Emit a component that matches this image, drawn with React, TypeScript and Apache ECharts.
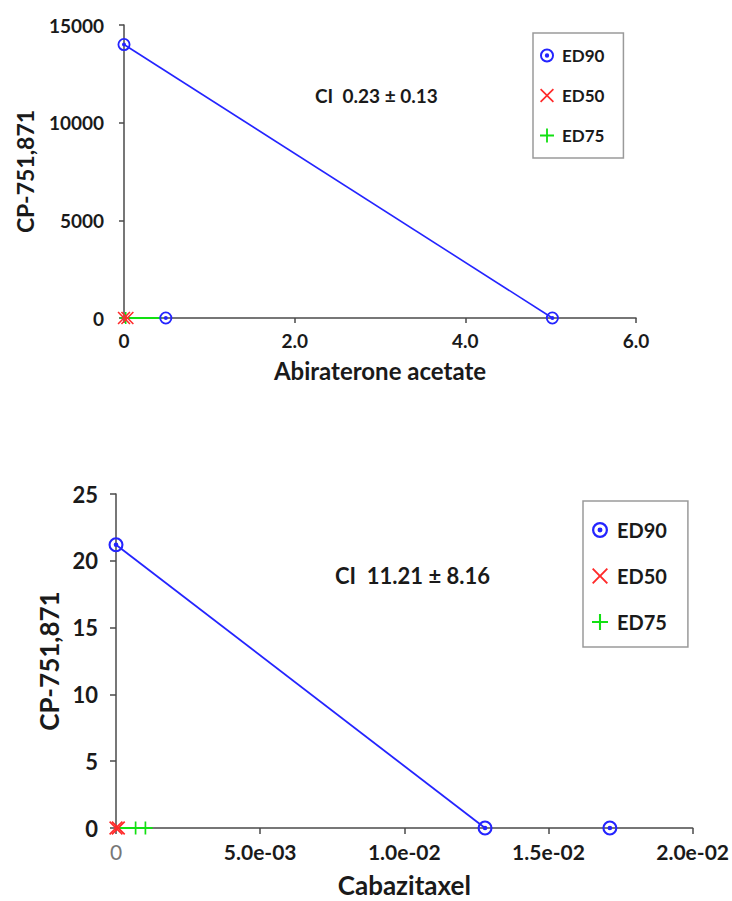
import React, { useEffect, useRef } from "react";
import * as echarts from "echarts";

const FONT = "Lato, 'Noto Sans', sans-serif";
const TEXT = "#1a1a1a";
const AXIS = "#4a4a4a";
const BLUE = "#2424ff";
const RED = "#ff2a2a";
const GREEN = "#12e012";

// ---------- Panel A: Abiraterone acetate vs CP-751,871 ----------
const A_X_NAME = "Abiraterone acetate";
const A_Y_NAME = "CP-751,871";
const A_CI = "CI  0.23 ± 0.13";
const A_X_RANGE = [0, 6, 2]; // min, max, interval
const A_Y_RANGE = [0, 15000, 5000];
const A_ED90_LINE = [[0, 14000], [5.02, 0]];
const A_ED90_POINTS = [[0, 14000], [5.02, 0], [0.49, 0]];
const A_ED75_LINE = [[0.0, 0], [0.44, 0]];
const A_ED75_POINTS = [[0.02, 0]];
const A_ED50_POINTS = [[0.0, 0], [0.04, 0]];

// ---------- Panel B: Cabazitaxel vs CP-751,871 ----------
const B_X_NAME = "Cabazitaxel";
const B_Y_NAME = "CP-751,871";
const B_CI = "CI  11.21 ± 8.16";
const B_X_RANGE = [0, 0.02, 0.005];
const B_Y_RANGE = [0, 25, 5];
const B_ED90_LINE = [[0, 21.2], [0.0128, 0]];
const B_ED90_POINTS = [[0, 21.2], [0.0128, 0], [0.01713, 0]];
const B_ED75_LINE = [[0, 0], [0.00127, 0]];
const B_ED75_POINTS = [[0.00068, 0], [0.00102, 0]];
const B_ED50_POINTS = [[0, 0], [0.00008, 0]];

const LEGEND_NAMES = ["ED90", "ED50", "ED75"];

const RING =
  "path://M0,-10A10,10,0,1,1,0,10A10,10,0,1,1,0,-10ZM0,-7.2A7.2,7.2,0,1,0,0,7.2A7.2,7.2,0,1,0,0,-7.2ZM0,-3.1A3.1,3.1,0,1,1,0,3.1A3.1,3.1,0,1,1,0,-3.1Z";
const CROSS =
  "path://M-10,-8.3L-8.3,-10L0,-1.7L8.3,-10L10,-8.3L1.7,0L10,8.3L8.3,10L0,1.7L-8.3,10L-10,8.3L-1.7,0Z";
const PLUS =
  "path://M-1.3,-10L1.3,-10L1.3,-1.3L10,-1.3L10,1.3L1.3,1.3L1.3,10L-1.3,10L-1.3,1.3L-10,1.3L-10,-1.3L-1.3,-1.3Z";

const ICONS: Record<string, string> = { ED90: RING, ED50: CROSS, ED75: PLUS };
const COLORS: Record<string, string> = { ED90: BLUE, ED50: RED, ED75: GREEN };

function sciLabel(v: number): string {
  if (v === 0) return "{z|0}";
  const [m, e] = v.toExponential(1).split("e");
  const n = parseInt(e, 10);
  const sign = n < 0 ? "-" : "+";
  const abs = Math.abs(n);
  return m + "e" + sign + (abs < 10 ? "0" + abs : String(abs));
}

function axisCommon(fontSize: number, margin: number, tickLen: number) {
  return {
    axisLine: { show: true, onZero: false, lineStyle: { color: AXIS, width: 1.5 } },
    axisTick: { show: true, length: tickLen, lineStyle: { color: AXIS, width: 1.5 } },
    splitLine: { show: false },
    axisLabel: {
      color: TEXT,
      fontFamily: FONT,
      fontWeight: "bold",
      fontSize,
      margin,
    },
  };
}

export default function App() {
  const ref = useRef<HTMLDivElement | null>(null);

  useEffect(() => {
    if (!ref.current) return;
    const chart = echarts.init(ref.current, undefined, { renderer: "svg" });

    const scatter = (name: string, data: number[][], axis: number, size: number) => ({
      type: "scatter",
      name,
      xAxisIndex: axis,
      yAxisIndex: axis,
      data,
      symbol: ICONS[name],
      symbolSize: size,
      clip: false,
      itemStyle: { color: COLORS[name], opacity: 1 },
      z: 5,
    });
    const line = (name: string, data: number[][], axis: number, color: string, width: number) => ({
      type: "line",
      name,
      xAxisIndex: axis,
      yAxisIndex: axis,
      data,
      symbol: "none",
      clip: false,
      lineStyle: { color, width },
      itemStyle: { color },
      z: 3,
    });

    const legend = (
      left: number,
      top: number,
      fontSize: number,
      iconW: number,
      iconH: number,
      gap: number,
      padding: number[]
    ) => ({
      orient: "vertical",
      left,
      top,
      padding,
      itemGap: gap,
      itemWidth: iconW,
      itemHeight: iconH,
      symbolKeepAspect: true,
      borderColor: "#9a9a9a",
      borderWidth: 1.5,
      backgroundColor: "#fff",
      textStyle: { color: TEXT, fontFamily: FONT, fontWeight: "bold", fontSize },
      data: LEGEND_NAMES.map((n) => ({ name: n, icon: ICONS[n] })),
    });

    const option = {
      animation: false,
      backgroundColor: "#ffffff",
      textStyle: { fontFamily: FONT },
      grid: [
        { left: 124, top: 25, width: 512, height: 293 },
        { left: 116, top: 494, width: 583, height: 334 },
      ],
      xAxis: [
        {
          type: "value",
          gridIndex: 0,
          min: A_X_RANGE[0],
          max: A_X_RANGE[1],
          interval: A_X_RANGE[2],
          name: A_X_NAME,
          nameLocation: "middle",
          nameGap: 40,
          nameTextStyle: { color: TEXT, fontFamily: FONT, fontWeight: "bold", fontSize: 24 },
          ...axisCommon(19, 13, 5),
          axisLabel: {
            ...axisCommon(19, 13, 5).axisLabel,
            formatter: (v: number) => (v === 0 ? "0" : v.toFixed(1)),
          },
        },
        {
          type: "value",
          gridIndex: 1,
          min: B_X_RANGE[0],
          max: B_X_RANGE[1],
          interval: B_X_RANGE[2],
          name: B_X_NAME,
          nameLocation: "middle",
          nameGap: 44,
          nameTextStyle: { color: TEXT, fontFamily: FONT, fontWeight: "bold", fontSize: 26 },
          ...axisCommon(21, 13, 6),
          axisLabel: {
            ...axisCommon(21, 13, 6).axisLabel,
            formatter: sciLabel,
            rich: { z: { fontFamily: FONT, fontWeight: "normal", fontSize: 21, color: "#777" } },
          },
        },
      ],
      yAxis: [
        {
          type: "value",
          gridIndex: 0,
          min: A_Y_RANGE[0],
          max: A_Y_RANGE[1],
          interval: A_Y_RANGE[2],
          name: A_Y_NAME,
          nameLocation: "middle",
          nameGap: 88,
          nameTextStyle: { color: TEXT, fontFamily: FONT, fontWeight: "bold", fontSize: 23 },
          ...axisCommon(19, 20, 5),
          axisLabel: {
            ...axisCommon(19, 20, 5).axisLabel,
            formatter: (v: number) => String(v),
          },
        },
        {
          type: "value",
          gridIndex: 1,
          min: B_Y_RANGE[0],
          max: B_Y_RANGE[1],
          interval: B_Y_RANGE[2],
          name: B_Y_NAME,
          nameLocation: "middle",
          nameGap: 50,
          nameTextStyle: { color: TEXT, fontFamily: FONT, fontWeight: "bold", fontSize: 26 },
          ...axisCommon(22, 18, 6),
        },
      ],
      legend: [
        legend(533, 33, 17, 20, 14, 23, [14, 19, 14, 7]),
        legend(583, 501, 20, 24, 16, 26, [19, 21, 15, 9]),
      ],
      graphic: [
        {
          type: "text",
          x: 315,
          y: 95,
          style: {
            text: A_CI,
            fill: TEXT,
            font: "bold 19px " + FONT,
            textVerticalAlign: "middle",
          },
        },
        {
          type: "text",
          x: 335,
          y: 575,
          style: {
            text: B_CI,
            fill: TEXT,
            font: "bold 22px " + FONT,
            textVerticalAlign: "middle",
          },
        },
      ],
      series: [
        line("ED90 isobole A", A_ED90_LINE, 0, BLUE, 1.6),
        line("ED75 isobole A", A_ED75_LINE, 0, GREEN, 2),
        scatter("ED90", A_ED90_POINTS, 0, 13),
        scatter("ED75", A_ED75_POINTS, 0, 12),
        scatter("ED50", A_ED50_POINTS, 0, 13),
        line("ED90 isobole B", B_ED90_LINE, 1, BLUE, 1.8),
        line("ED75 isobole B", B_ED75_LINE, 1, GREEN, 2),
        scatter("ED90", B_ED90_POINTS, 1, 15),
        scatter("ED75", B_ED75_POINTS, 1, 13),
        scatter("ED50", B_ED50_POINTS, 1, 14),
      ],
    };

    chart.setOption(option as any);
    return () => chart.dispose();
  }, []);

  return (
    <div
      ref={ref}
      style={{ position: "absolute", left: 0, top: 0, width: 732, height: 901, background: "#fff" }}
    />
  );
}
